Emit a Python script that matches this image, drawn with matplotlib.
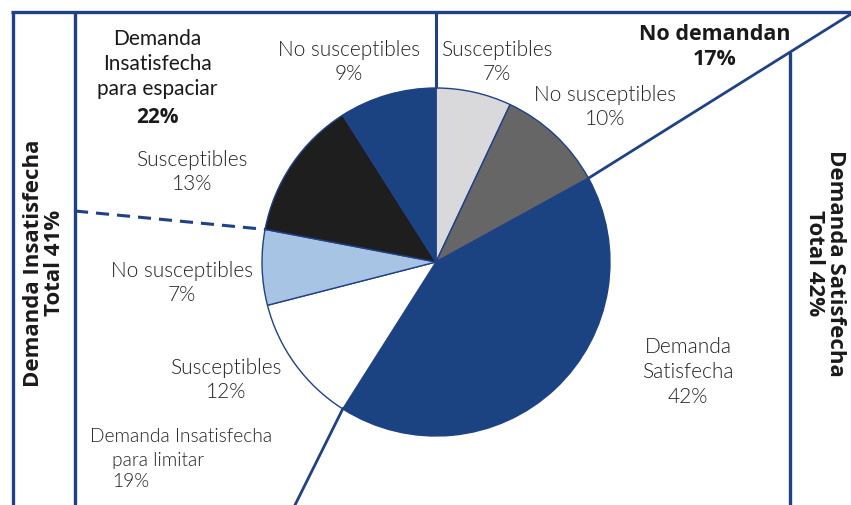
import numpy as np
import matplotlib.pyplot as plt

# slices, clockwise from 12 o'clock
slice_labels = ["Susceptibles", "No susceptibles", "Demanda\nSatisfecha",
                "Susceptibles", "No susceptibles", "Susceptibles", "No susceptibles"]
slice_values = [7, 10, 42, 12, 7, 13, 9]
slice_colors = ["#d9d9db", "#666666", "#1b4381", "#ffffff", "#a8c4e5", "#1e1e1e", "#1b4381"]

group_labels = ["No demandan", "Demanda\nInsatisfecha\npara espaciar", "Demanda Insatisfecha\npara limitar"]
group_values = [17, 22, 19]
total_labels = ["Demanda Insatisfecha\nTotal", "Demanda Satisfecha\nTotal"]
total_values = [41, 42]

NAVY = "#1f4188"
TXT = "#222222"
DARK = "#1a1a1a"
LIGHT_FONT = "Lato"
BOLD_FONT = "Open Sans"

fig = plt.figure(figsize=(8.51, 5.06), dpi=100)
ax = fig.add_axes([0, 0, 1, 1])

cx, cy, r = 436, 263, 174
ax.pie(slice_values, colors=slice_colors, startangle=-90, counterclock=True,
       center=(cx, cy), radius=r,
       wedgeprops=dict(edgecolor=NAVY, linewidth=1.0))
ax.set_xlim(0, 851)
ax.set_ylim(506, 0)
ax.set_aspect("equal")
ax.set_axis_off()


def edge_point(frac):
    th = np.deg2rad(-90 + 360 * frac)
    return cx + r * np.cos(th), cy + r * np.sin(th)


cum = np.cumsum(slice_values) / sum(slice_values)

# frame
ax.plot([11, 851], [13, 13], color=NAVY, lw=2.4, solid_capstyle="butt")
ax.plot([13, 13], [12, 506], color=NAVY, lw=2.4, solid_capstyle="butt")
ax.plot([75, 75], [12, 506], color=NAVY, lw=2.4, solid_capstyle="butt")
ax.plot([cx, cx], [12, cy - r], color=NAVY, lw=2.2, solid_capstyle="butt")
ax.plot([790, 790], [53, 506], color=NAVY, lw=2.4, solid_capstyle="butt")

# separators out of the pie
x0, y0 = edge_point(cum[1])
ax.plot([x0, 851], [y0, 15], color=NAVY, lw=2.0)
x0, y0 = edge_point(cum[2])
ax.plot([x0, 295], [y0, 506], color=NAVY, lw=2.0)
x0, y0 = edge_point(cum[4])
ax.plot([75, x0], [212, y0], color=NAVY, lw=2.2, dashes=(4.3, 2.6))

# slice labels
label_pos = [(497, 62), (605, 107), (688, 372), (226, 380), (182, 283), (192, 172), (349, 62)]
for lab, val, (x, y) in zip(slice_labels, slice_values, label_pos):
    ax.text(x, y, f"{lab}\n{val}%", ha="center", va="center", fontsize=15,
            family=LIGHT_FONT, fontweight=300, color=TXT, linespacing=1.3)

# group labels
ax.text(715, 47, f"{group_labels[0]}\n{group_values[0]}%", ha="center", va="center",
        fontsize=15.5, family=BOLD_FONT, fontweight="bold", color=DARK, linespacing=1.2)
ax.text(157, 64, group_labels[1], ha="center", va="center", fontsize=15,
        family=LIGHT_FONT, color=DARK, linespacing=1.3)
ax.text(157, 117, f"{group_values[1]}%", ha="center", va="center", fontsize=15,
        family=BOLD_FONT, fontweight="bold", color=DARK)
lines = group_labels[2].split("\n")
ax.text(90, 437, lines[0], ha="left", va="center", fontsize=13.8,
        family=LIGHT_FONT, fontweight=300, color=TXT)
ax.text(112, 471, f"{lines[1]}\n{group_values[2]}%", ha="left", va="center",
        fontsize=13.8, family=LIGHT_FONT, fontweight=300, color=TXT, linespacing=1.25)

# totals
ax.text(44, 263, f"{total_labels[0]} {total_values[0]}%", rotation=90, ha="center",
        va="center", fontsize=16, family=BOLD_FONT, fontweight="bold", color=DARK,
        linespacing=1.05)
ax.text(825, 263, f"{total_labels[1]} {total_values[1]}%", rotation=270, ha="center",
        va="center", fontsize=16, family=BOLD_FONT, fontweight="bold", color=DARK,
        linespacing=1.05)

fig.savefig("out.png", dpi=100)
